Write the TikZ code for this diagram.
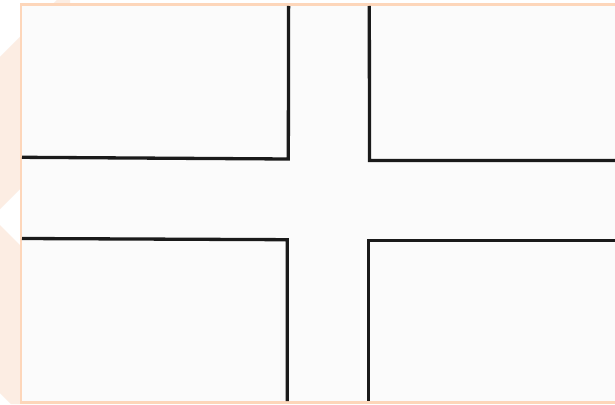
\documentclass[tikz,border=0pt]{standalone}
\definecolor{peach}{HTML}{FCEDE3}
\definecolor{framecol}{HTML}{FDD6BA}
\definecolor{paper}{HTML}{FBFBFB}
\definecolor{ink}{HTML}{1A1A1A}
\tikzset{
  kerb/.style={draw=ink, line width=3.3pt, line join=miter},
}
\begin{document}
\begin{tikzpicture}[x=1pt,y=-1pt]
\useasboundingbox (0,0) rectangle (615,404);
\fill[white] (0,0) rectangle (615,404);
% peach backdrop on the left with cut corners and a notch
\fill[peach] (57,0) -- (70,0) -- (70,404) -- (11,404) -- (0,393) -- (0,225)
  -- (20,245) -- (20,189) -- (0,209) -- (0,57) -- cycle;
% paper area with frame
\fill[paper] (21,4.75) rectangle (620,402.5);
\draw[framecol, line width=2.5pt] (620,4.75) -- (21,4.75) -- (21,402.5) -- (620,402.5);
% kerb lines of the crossroads
\draw[kerb] (22,157.3) -- (288.3,159) -- (288.6,6);
\draw[kerb] (615,160.5) -- (369.5,160.5) -- (369.3,6);
\draw[kerb] (22,238.5) -- (287.3,239.7) -- (287.3,401);
\draw[kerb] (615,240.7) -- (368.7,240.7) -- (368.7,401);
\end{tikzpicture}
\end{document}
